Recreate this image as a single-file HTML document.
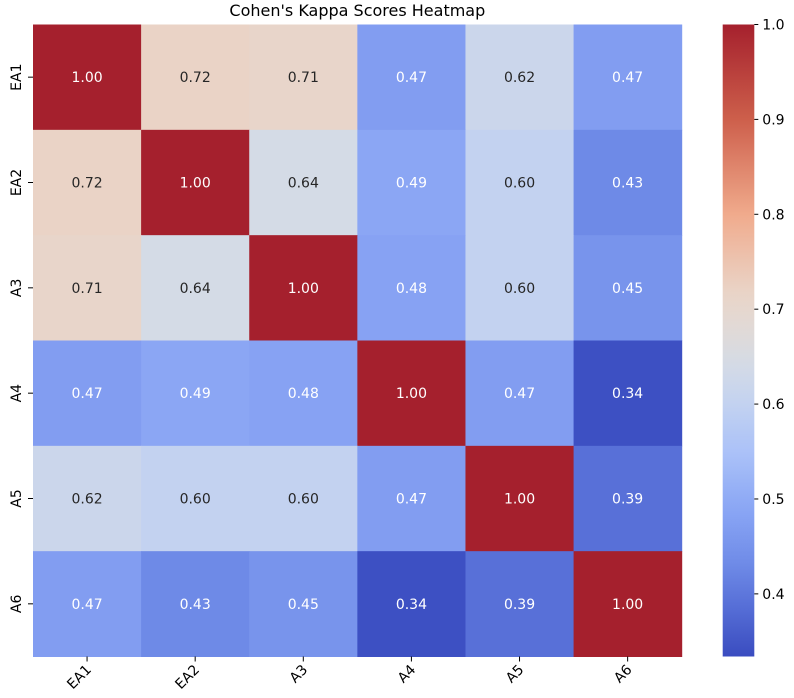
<!DOCTYPE html>
<html><head><meta charset="utf-8"><style>
body{margin:0;background:#fff;}
svg{display:block;font-family:"DejaVu Sans","Liberation Sans",sans-serif;}
</style></head><body>
<svg id="chart" width="794" height="698"></svg>
<script>
const rowLabels=["EA1","EA2","A3","A4","A5","A6"];
const colLabels=["EA1","EA2","A3","A4","A5","A6"];
const row0=[1.00,0.72,0.71,0.47,0.62,0.47];
const row1=[0.72,1.00,0.64,0.49,0.60,0.43];
const row2=[0.71,0.64,1.00,0.48,0.60,0.45];
const row3=[0.47,0.49,0.48,1.00,0.47,0.34];
const row4=[0.62,0.60,0.60,0.47,1.00,0.39];
const row5=[0.47,0.43,0.45,0.34,0.39,1.00];
const values=[row0,row1,row2,row3,row4,row5];
const cbTicks=[0.4,0.5,0.6,0.7,0.8,0.9,1.0];
const vmin=0.334, vmax=1.0;

const NS="http://www.w3.org/2000/svg";
const svg=document.getElementById('chart');
const L=33,R=681.7,T=24.5,B=656.5;
const cw=(R-L)/colLabels.length, ch=(B-T)/rowLabels.length;
const cbL=722.7,cbR=754.3;
const stops=[[0,[58,76,192]],[0.09,[90,115,218]],[0.15,[112,140,232]],[0.22,[135,162,243]],[0.24,[140,168,245]],[0.32,[170,193,248]],[0.40,[195,210,240]],[0.46,[212,219,230]],[0.52,[225,218,214]],[0.58,[234,211,198]],[0.70,[240,170,140]],[0.85,[205,95,75]],[1,[165,32,45]]];
function cmap(v){let t=(v-vmin)/(vmax-vmin);t=Math.max(0,Math.min(1,t));
 for(let i=0;i<stops.length-1;i++){const [ta,a]=stops[i],[tb,b]=stops[i+1];
  if(t<=tb){const f=(t-ta)/(tb-ta);return a.map((x,k)=>Math.round(x+(b[k]-x)*f));}}
 return stops[stops.length-1][1];}
function el(tag,attrs,txt){const e=document.createElementNS(NS,tag);for(const k in attrs)e.setAttribute(k,attrs[k]);if(txt!=null)e.textContent=txt;svg.appendChild(e);return e;}
const xs=j=>L+j*cw, ys=i=>T+i*ch, yc=v=>B-(v-vmin)/(vmax-vmin)*(B-T);

const title=el('text',{x:(L+R)/2,y:16,'text-anchor':'middle','font-size':16},"Cohen's Kappa Scores Heatmap");



values.forEach((row,i)=>row.forEach((v,j)=>{
 const c=cmap(v);
 const r=el('rect',{x:xs(j),y:ys(i),width:cw+0.5,height:ch+0.5,fill:`rgb(${c})`});
 
 
 const dark=(v>=0.55&&v<=0.8);
 const t=el('text',{x:xs(j)+cw/2,y:ys(i)+ch/2+5,'text-anchor':'middle','font-size':14,fill:dark?'#262626':'#fff'},v.toFixed(2));
 
 
}));
rowLabels.forEach((lab,i)=>{
 const y=ys(i)+ch/2;
 el('line',{x1:L-5,x2:L,y1:y,y2:y,stroke:'#000','stroke-width':1});
 const t=el('text',{x:0,y:0,transform:`translate(21,${y}) rotate(-90)`,'text-anchor':'middle','font-size':14},lab);
 
 
});
colLabels.forEach((lab,j)=>{
 const x=xs(j)+cw/2;
 el('line',{x1:x,x2:x,y1:B,y2:B+5,stroke:'#000','stroke-width':1});
 const t=el('text',{x:0,y:0,transform:`translate(${x+5},${B+14}) rotate(-45)`,'text-anchor':'end','font-size':14},lab);
 
 
});
const defs=document.createElementNS(NS,'defs');svg.appendChild(defs);
const g=document.createElementNS(NS,'linearGradient');g.setAttribute('id','cb');g.setAttribute('x1','0');g.setAttribute('y1','1');g.setAttribute('x2','0');g.setAttribute('y2','0');defs.appendChild(g);
for(let k=0;k<=40;k++){const v=vmin+(vmax-vmin)*k/40;const s=document.createElementNS(NS,'stop');s.setAttribute('offset',k/40);s.setAttribute('stop-color',`rgb(${cmap(v)})`);g.appendChild(s);}
const cb=el('rect',{x:cbL,y:T,width:cbR-cbL,height:B-T,fill:'url(#cb)'});


cbTicks.forEach(v=>{
 const y=yc(v);
 el('line',{x1:cbR,x2:cbR+4,y1:y,y2:y,stroke:'#000','stroke-width':1});
 const t=el('text',{x:cbR+8,y:y+5,'font-size':14},v.toFixed(1));
 
 
});
</script>
</body></html>
